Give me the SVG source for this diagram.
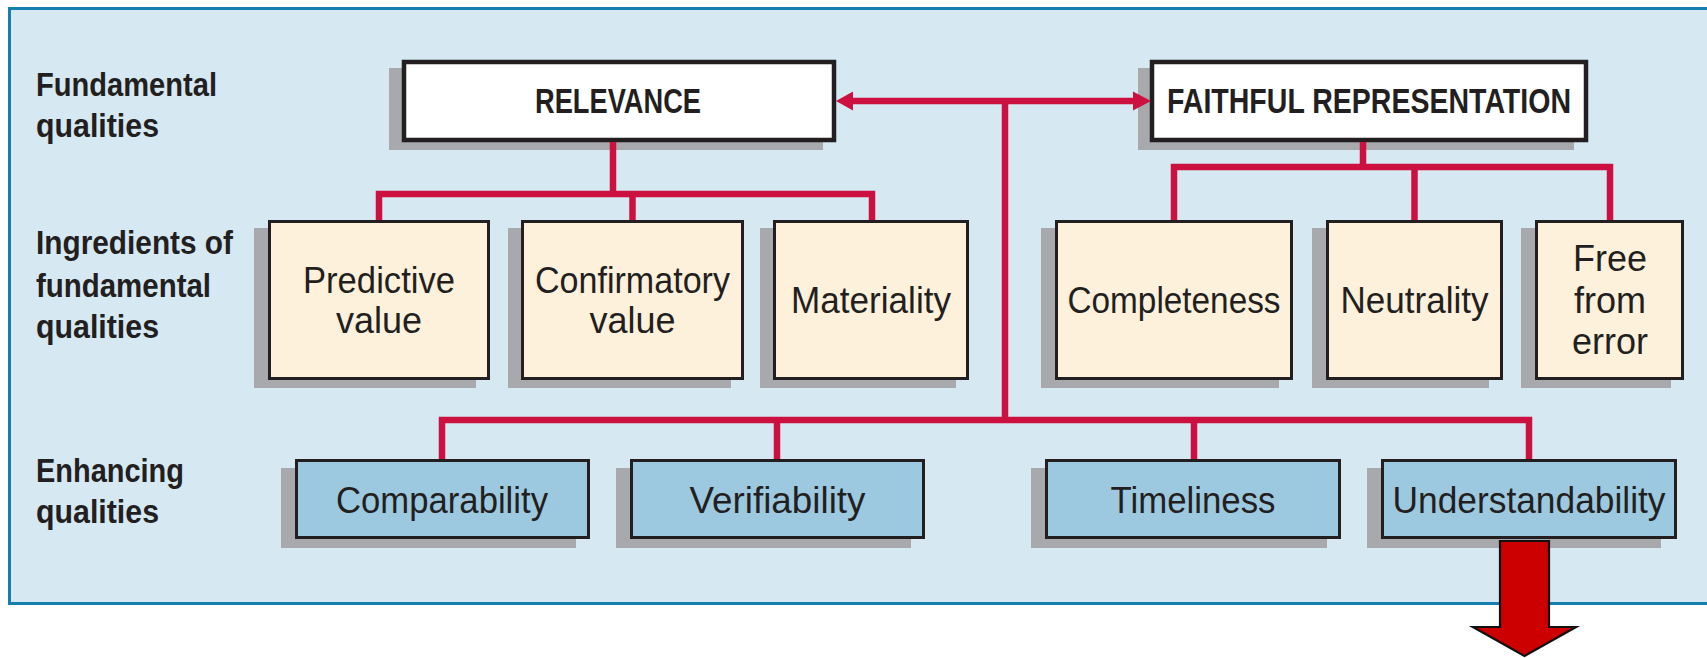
<svg xmlns="http://www.w3.org/2000/svg" width="1707" height="658" viewBox="0 0 1707 658">
  <style>
    .panel { fill: #d6e8f2; stroke: #1580b0; stroke-width: 3; }
    .shadow { fill: #a7a9ac; }
    .tan { fill: #fdf1dc; stroke: #231f20; stroke-width: 3; }
    .blue { fill: #9dc9e0; stroke: #231f20; stroke-width: 3; }
    .white { fill: #ffffff; stroke: #231f20; stroke-width: 4.5; }
    .label { font-family: "Liberation Sans", Arial, sans-serif; font-weight: bold; font-size: 34px; fill: #231f20; }
    .head { font-family: "Liberation Sans", Arial, sans-serif; font-weight: bold; font-size: 35px; fill: #231f20; text-anchor: middle; }
    .txt { font-family: "Liberation Sans", Arial, sans-serif; font-size: 36px; fill: #231f20; text-anchor: middle; }
    .conn { fill: none; stroke: #cc1040; stroke-width: 6.5; stroke-linejoin: miter; stroke-linecap: butt; }
    .ahead { fill: #cc1040; }
  </style>

  <rect class="panel" x="9.5" y="8.5" width="1710" height="595"/>

  <g id="row-labels">
    <text class="label" x="36" y="96" textLength="181" lengthAdjust="spacingAndGlyphs">Fundamental</text>
    <text class="label" x="36" y="137" textLength="123" lengthAdjust="spacingAndGlyphs">qualities</text>
    <text class="label" x="36" y="254" textLength="197" lengthAdjust="spacingAndGlyphs">Ingredients of</text>
    <text class="label" x="36" y="297" textLength="175" lengthAdjust="spacingAndGlyphs">fundamental</text>
    <text class="label" x="36" y="338" textLength="123" lengthAdjust="spacingAndGlyphs">qualities</text>
    <text class="label" x="36" y="482" textLength="148" lengthAdjust="spacingAndGlyphs">Enhancing</text>
    <text class="label" x="36" y="523" textLength="123" lengthAdjust="spacingAndGlyphs">qualities</text>
  </g>

  <g id="relevance">
    <rect class="shadow" x="389" y="68" width="434" height="82"/>
    <rect class="white" x="404" y="62" width="430" height="78"/>
    <text class="head" x="618" y="113" textLength="166" lengthAdjust="spacingAndGlyphs">RELEVANCE</text>
  </g>
  <g id="faithful-representation">
    <rect class="shadow" x="1138" y="68" width="436" height="82"/>
    <rect class="white" x="1152" y="62" width="434" height="78"/>
    <text class="head" x="1369" y="113" textLength="404" lengthAdjust="spacingAndGlyphs">FAITHFUL REPRESENTATION</text>
  </g>

  <g id="predictive-value">
    <rect class="shadow" x="254" y="228" width="222" height="160"/>
    <rect class="tan" x="269.5" y="221.5" width="219" height="157"/>
    <text class="txt" x="379" y="293" textLength="152" lengthAdjust="spacingAndGlyphs">Predictive</text>
    <text class="txt" x="379" y="333">value</text>
  </g>
  <g id="confirmatory-value">
    <rect class="shadow" x="508" y="228" width="223" height="160"/>
    <rect class="tan" x="522.5" y="221.5" width="220" height="157"/>
    <text class="txt" x="632.5" y="293" textLength="195" lengthAdjust="spacingAndGlyphs">Confirmatory</text>
    <text class="txt" x="632.5" y="333">value</text>
  </g>
  <g id="materiality">
    <rect class="shadow" x="760" y="228" width="196" height="160"/>
    <rect class="tan" x="774.5" y="221.5" width="193" height="157"/>
    <text class="txt" x="871" y="313" textLength="160" lengthAdjust="spacingAndGlyphs">Materiality</text>
  </g>
  <g id="completeness">
    <rect class="shadow" x="1041" y="228" width="238" height="160"/>
    <rect class="tan" x="1056.5" y="221.5" width="235" height="157"/>
    <text class="txt" x="1174" y="313" textLength="213" lengthAdjust="spacingAndGlyphs">Completeness</text>
  </g>
  <g id="neutrality">
    <rect class="shadow" x="1312" y="228" width="177" height="160"/>
    <rect class="tan" x="1327.5" y="221.5" width="174" height="157"/>
    <text class="txt" x="1414.5" y="313" textLength="148" lengthAdjust="spacingAndGlyphs">Neutrality</text>
  </g>
  <g id="free-from-error">
    <rect class="shadow" x="1521" y="228" width="150" height="160"/>
    <rect class="tan" x="1536.5" y="221.5" width="146" height="157"/>
    <text class="txt" x="1610" y="271">Free</text>
    <text class="txt" x="1610" y="313">from</text>
    <text class="txt" x="1610" y="354">error</text>
  </g>

  <g id="comparability">
    <rect class="shadow" x="281" y="468" width="295" height="80"/>
    <rect class="blue" x="296.5" y="460.5" width="292" height="77"/>
    <text class="txt" x="442" y="513" textLength="212" lengthAdjust="spacingAndGlyphs">Comparability</text>
  </g>
  <g id="verifiability">
    <rect class="shadow" x="616" y="468" width="295" height="80"/>
    <rect class="blue" x="631.5" y="460.5" width="292" height="77"/>
    <text class="txt" x="777.5" y="513" textLength="176" lengthAdjust="spacingAndGlyphs">Verifiability</text>
  </g>
  <g id="timeliness">
    <rect class="shadow" x="1031" y="468" width="296" height="80"/>
    <rect class="blue" x="1046.5" y="460.5" width="293" height="77"/>
    <text class="txt" x="1193" y="513" textLength="165" lengthAdjust="spacingAndGlyphs">Timeliness</text>
  </g>
  <g id="understandability">
    <rect class="shadow" x="1367" y="468" width="294" height="80"/>
    <rect class="blue" x="1382.5" y="460.5" width="293" height="77"/>
    <text class="txt" x="1529" y="513" textLength="273" lengthAdjust="spacingAndGlyphs">Understandability</text>
  </g>

  <g id="connectors">
    <path class="conn" d="M852 101 H1134"/>
    <polygon class="ahead" points="836,101 853,91.5 853,110.5"/>
    <polygon class="ahead" points="1151,101 1133,91.5 1133,110.5"/>
    <path class="conn" d="M1005 101 V420"/>
    <path class="conn" d="M442 459 V420 H1529 V459"/>
    <path class="conn" d="M777 420 V459"/>
    <path class="conn" d="M1194 420 V459"/>
    <path class="conn" d="M613 142 V194"/>
    <path class="conn" d="M379 220 V194 H872 V220"/>
    <path class="conn" d="M632.5 194 V220"/>
    <path class="conn" d="M1363 142 V167"/>
    <path class="conn" d="M1174 220 V167 H1610 V220"/>
    <path class="conn" d="M1414.5 167 V220"/>
  </g>

  <g id="down-arrow">
    <polygon points="1500,541 1549,541 1549,627 1576,627 1524.5,656 1473,627 1500,627" fill="#cc0000" stroke="#111111" stroke-width="2.2" stroke-linejoin="miter"/>
  </g>
</svg>
